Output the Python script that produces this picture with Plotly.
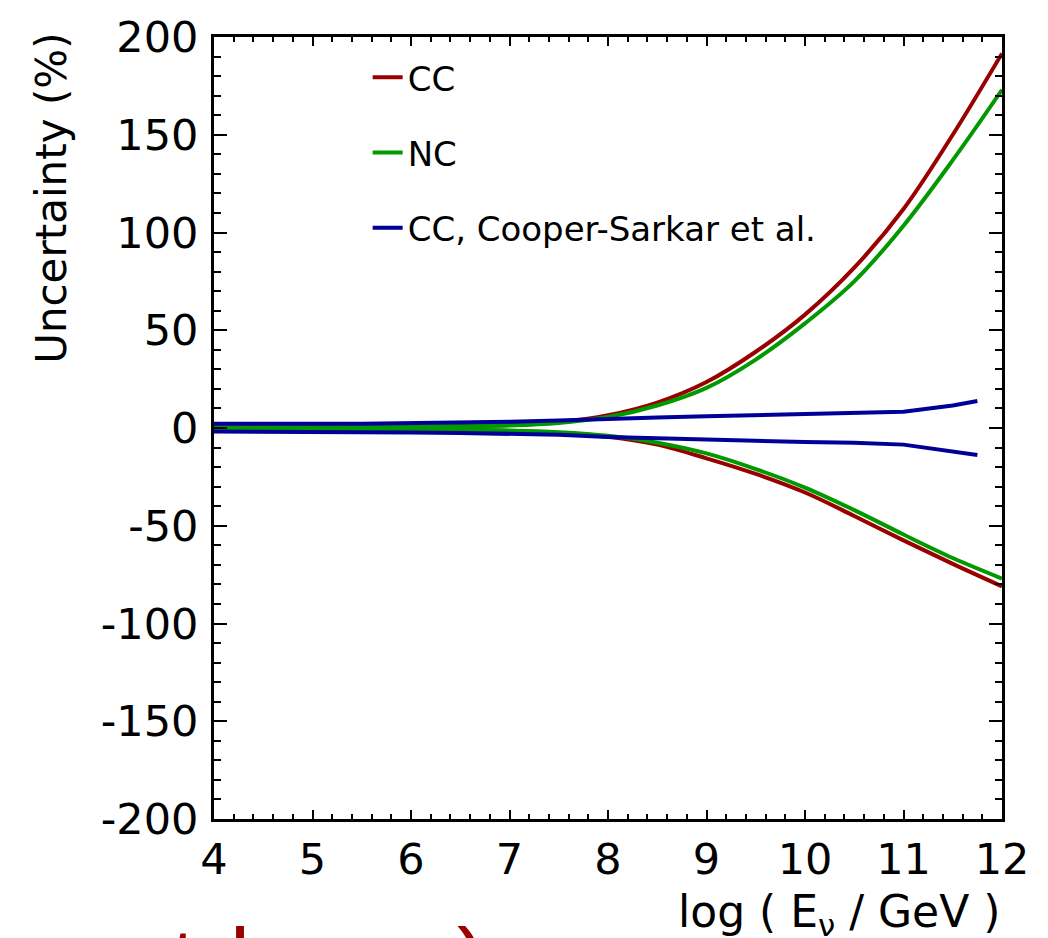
import plotly.graph_objects as go

# log10(E_nu / GeV) grid for the cross-section uncertainty bands
log_e = [4, 4.5, 5, 5.5, 6, 6.5, 7, 7.5, 8, 8.5, 9, 9.5, 10, 10.5, 11, 11.5, 12]

cc_up = [0.4, 0.4, 0.5, 0.6, 0.7, 1.0, 1.5, 3.0, 6.5, 13, 23.5, 39, 58, 82, 112, 150, 191.6]
cc_down = [-0.4, -0.4, -0.5, -0.6, -0.8, -1.0, -1.5, -2.5, -4.5, -8.5, -15.5, -23.5, -33, -45, -57.5, -69.5, -81]
nc_up = [0.3, 0.3, 0.4, 0.5, 0.6, 0.9, 1.3, 2.6, 5.6, 11.5, 20.5, 35, 53.5, 75, 103.5, 137, 173]
nc_down = [-0.3, -0.3, -0.4, -0.5, -0.7, -0.9, -1.3, -2.2, -4.0, -7.5, -13, -21, -30.5, -42, -54.5, -66.5, -77]

# Cooper-Sarkar et al. CC band
log_e_cs = [4, 4.5, 5, 5.5, 6, 6.5, 7, 7.5, 8, 8.5, 9, 9.5, 10, 10.5, 11, 11.5, 11.75]
cs_up = [2.2, 2.0, 2.2, 2.2, 2.5, 2.6, 3.2, 3.8, 4.8, 5.4, 6.0, 6.5, 7.0, 7.5, 8.3, 11.5, 13.8]
cs_down = [-1.8, -1.8, -1.9, -2.0, -2.3, -2.5, -2.8, -3.5, -4.6, -5.4, -6.0, -6.5, -7.2, -7.5, -8.5, -11.8, -13.8]

x_ticks = [4, 5, 6, 7, 8, 9, 10, 11, 12]
y_ticks = [-200, -150, -100, -50, 0, 50, 100, 150, 200]
y_tick_text = ["-200", "-150", "-100", "-50", "0", "50", "100", "150", "200"]

RED = "#990000"
GREEN = "#009900"
BLUE = "#000099"
FONT = "DejaVu Sans, Liberation Sans, Arial, sans-serif"

fig = go.Figure()

series = [
    ("CC", cc_up, cc_down, log_e, RED, "spline"),
    ("NC", nc_up, nc_down, log_e, GREEN, "spline"),
    ("CC, Cooper-Sarkar et al.", cs_up, cs_down, log_e_cs, BLUE, "linear"),
]
for name, up, down, xs, color, shape in series:
    fig.add_trace(go.Scatter(
        x=xs, y=up, mode="lines", name=name, legendgroup=name,
        line=dict(color=color, width=4, shape=shape),
    ))
    fig.add_trace(go.Scatter(
        x=xs, y=down, mode="lines", name=name, legendgroup=name, showlegend=False,
        line=dict(color=color, width=4, shape=shape),
    ))

axis_common = dict(
    showline=True, linecolor="black", linewidth=3, mirror="allticks",
    ticks="inside", tickcolor="black", tickwidth=2,
    showgrid=False, zeroline=False,
    tickfont=dict(family=FONT, size=43, color="black"),
)

fig.update_xaxes(
    range=[4, 12], tickvals=x_ticks, ticklen=9,
    minor=dict(dtick=0.2, ticks="inside", ticklen=5, tickcolor="black", tickwidth=2, showgrid=False),
    ticklabelstandoff=0,
    **axis_common,
)
fig.update_yaxes(
    range=[-200, 200], tickvals=y_ticks, ticktext=y_tick_text, ticklen=13,
    minor=dict(dtick=10, ticks="inside", ticklen=7, tickcolor="black", tickwidth=2, showgrid=False),
    ticklabelstandoff=4,
    **axis_common,
)

fig.add_annotation(
    text="Uncertainty (%)", textangle=-90, xref="paper", yref="paper",
    x=-0.2056, y=1.0085, xanchor="center", yanchor="top", showarrow=False,
    font=dict(family=FONT, size=42, color="black"),
)
fig.add_annotation(
    text="log ( E<sub>ν</sub> / GeV )", xref="paper", yref="paper",
    x=1.0, y=-0.0834, xanchor="right", yanchor="top", showarrow=False,
    font=dict(family=FONT, size=44, color="black"),
)

# slide heading below the figure, cut by the page edge
for ch, xp in [("t", -0.039), ("l", 0.033), (")", 0.327)]:
    fig.add_annotation(
        text=ch, xref="paper", yref="paper", x=xp, y=-0.1151,
        xanchor="center", yanchor="top", showarrow=False,
        font=dict(family="Liberation Sans, Arial, sans-serif", size=90, color=RED),
    )

fig.update_layout(
    width=1048, height=938,
    margin=dict(l=214, r=46, t=32, b=119),
    paper_bgcolor="white", plot_bgcolor="white",
    showlegend=True,
    legend=dict(
        x=0.195, y=0.985, xanchor="left", yanchor="top",
        bgcolor="rgba(0,0,0,0)", borderwidth=0,
        font=dict(family=FONT, size=34, color="black"),
        tracegroupgap=28, traceorder="grouped",
    ),
)

fig.write_html("out.html")
